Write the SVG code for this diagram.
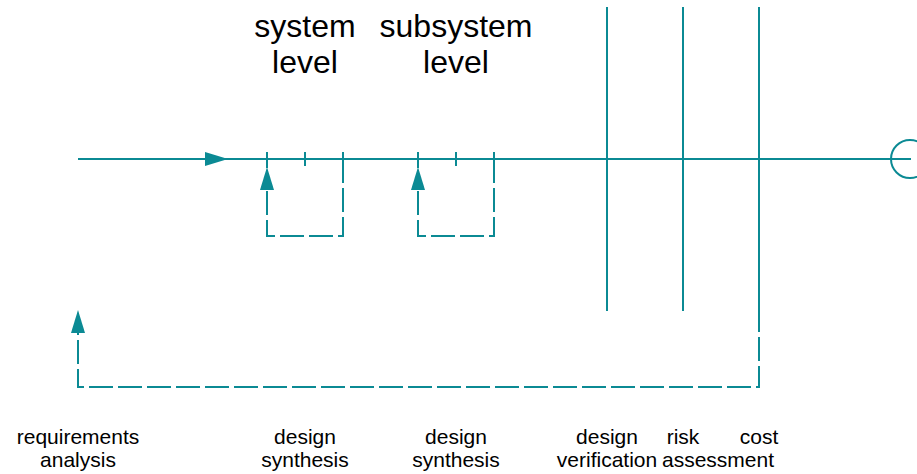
<svg xmlns="http://www.w3.org/2000/svg" width="917" height="474" viewBox="0 0 917 474">
  <style>
    .ln { fill: none; stroke: #0b8a94; stroke-width: 2; stroke-linecap: butt; }
    .dash { stroke-dasharray: 24 5; }
    .head { fill: #0b8a94; }
    .big { font-family: "Liberation Sans", Arial, sans-serif; font-size: 32px; fill: #000; text-anchor: middle; }
    .lbl { font-family: "Liberation Sans", Arial, sans-serif; font-size: 21px; fill: #000; text-anchor: middle; }
  </style>
  <defs>
    <marker id="arrow" markerUnits="userSpaceOnUse" markerWidth="24" markerHeight="14" refX="0" refY="7" orient="auto" viewBox="0 0 24 14">
      <path class="head" d="M0,0 L23,7 L0,14 z"/>
    </marker>
  </defs>
  <rect width="917" height="474" fill="#fff"/>

  <!-- process flow and feedback loops -->
  <g id="connectors">
    <!-- main process line with direction arrow -->
    <path class="ln" d="M78,159 H205" marker-end="url(#arrow)"/>
    <path class="ln" d="M205,159 H911"/>
    <!-- end circle -->
    <circle class="ln" cx="910" cy="159" r="19"/>

    <!-- tick marks on the main line -->
    <path class="ln" d="M267,152 V168 M305,152 V166 M343,152 V159 M418,152 V168 M456,152 V166 M494,152 V159"/>

    <!-- system level loop -->
    <path class="ln dash" d="M343,159 V236 H267 V190" marker-end="url(#arrow)"/>
    <!-- subsystem level loop -->
    <path class="ln dash" d="M494,159 V236 H418 V190" marker-end="url(#arrow)"/>

    <!-- verification / assessment gates -->
    <path class="ln" d="M607,7 V311 M683,7 V311 M759,7 V308"/>
    <!-- overall feedback to requirements analysis -->
    <path class="ln dash" d="M759,308 V387 H78 V333" marker-end="url(#arrow)"/>
  </g>

  <g id="system-level">
    <text class="big" x="305" y="37">system</text>
    <text class="big" x="305" y="73">level</text>
  </g>
  <g id="subsystem-level">
    <text class="big" x="456" y="37">subsystem</text>
    <text class="big" x="456" y="73">level</text>
  </g>

  <g id="requirements-analysis">
    <text class="lbl" x="78" y="444">requirements</text>
    <text class="lbl" x="78" y="467">analysis</text>
  </g>
  <g id="design-synthesis-system">
    <text class="lbl" x="305" y="444">design</text>
    <text class="lbl" x="305" y="467">synthesis</text>
  </g>
  <g id="design-synthesis-subsystem">
    <text class="lbl" x="456" y="444">design</text>
    <text class="lbl" x="456" y="467">synthesis</text>
  </g>
  <g id="design-verification">
    <text class="lbl" x="607" y="444">design</text>
    <text class="lbl" x="607" y="467">verification</text>
  </g>
  <g id="risk-assessment">
    <text class="lbl" x="683" y="444">risk</text>
    <text class="lbl" x="718" y="467">assessment</text>
  </g>
  <g id="cost">
    <text class="lbl" x="759" y="444">cost</text>
  </g>
</svg>
